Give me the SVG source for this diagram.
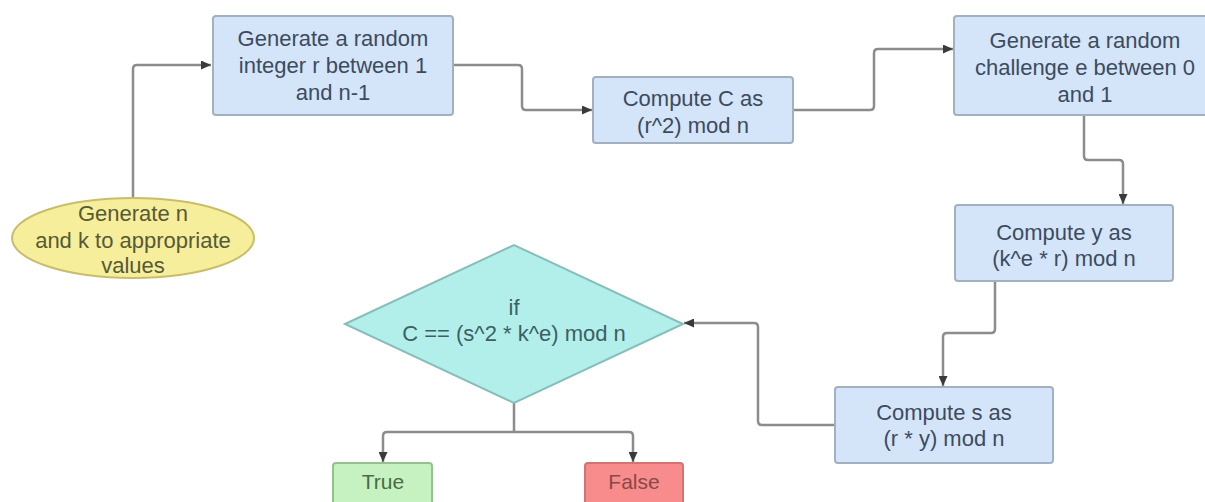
<svg xmlns="http://www.w3.org/2000/svg" width="1205" height="502" viewBox="0 0 1205 502">
  <style>
    .lbl { font-family: "Liberation Sans", Arial, sans-serif; font-size: 22px; text-anchor: middle; dominant-baseline: central; }
    .small { font-size: 21px; }
    .proc rect { fill: #d4e5fa; stroke: #a2b0c0; stroke-width: 2; }
    .proc text { fill: #3d4b5e; }
    .start ellipse { fill: #f7ee9b; stroke: #c8bd6a; stroke-width: 2; }
    .start text { fill: #565a36; }
    .dec polygon { fill: #b3efea; stroke: #88beb9; stroke-width: 2; }
    .dec text { fill: #3d5f64; }
    .yes rect { fill: #c6f2c1; stroke: #92c28e; stroke-width: 2; }
    .yes text { fill: #4b6b48; }
    .no rect { fill: #f88c8c; stroke: #d27474; stroke-width: 2; }
    .no text { fill: #8a4848; }
    .conn path { fill: none; stroke: #8c8c8c; stroke-width: 2.5; }
  </style>
  <defs>
    <marker id="arrow" markerUnits="userSpaceOnUse" markerWidth="11" markerHeight="9" refX="10" refY="4.5" orient="auto">
      <path d="M0 0 L10 4.5 L0 9 z" fill="#3a3a3a"/>
    </marker>
  </defs>

  <!-- connectors -->
  <g id="connectors" class="conn">
    <path d="M133 198 V69 Q133 65 137 65 H211" marker-end="url(#arrow)"/>
    <path d="M453 65 H518 Q522 65 522 69 V106 Q522 110 526 110 H592" marker-end="url(#arrow)"/>
    <path d="M793 110 H870 Q874 110 874 106 V53 Q874 49 878 49 H953" marker-end="url(#arrow)"/>
    <path d="M1084 115 V156 Q1084 160 1088 160 H1119 Q1123 160 1123 164 V204" marker-end="url(#arrow)"/>
    <path d="M995 281 V329 Q995 333 991 333 H947 Q943 333 943 337 V386" marker-end="url(#arrow)"/>
    <path d="M835 425 H762 Q758 425 758 421 V327 Q758 323 754 323 H684" marker-end="url(#arrow)"/>
    <path d="M514 403 V432"/>
    <path d="M514 432 H387 Q383 432 383 436 V462" marker-end="url(#arrow)"/>
    <path d="M514 432 H629 Q633 432 633 436 V462" marker-end="url(#arrow)"/>
  </g>

  <!-- start -->
  <g id="n-setup" class="start">
    <ellipse cx="133" cy="238" rx="121" ry="40"/>
    <text class="lbl" x="133" y="213">Generate n</text>
    <text class="lbl" x="133" y="240">and k to appropriate</text>
    <text class="lbl" x="133" y="265">values</text>
  </g>

  <g id="n-rand-r" class="proc">
    <rect x="213" y="16" width="240" height="99" rx="3"/>
    <text class="lbl" x="333" y="38">Generate a random</text>
    <text class="lbl" x="333" y="65">integer r between 1</text>
    <text class="lbl" x="333" y="92">and n-1</text>
  </g>

  <g id="n-compute-c" class="proc">
    <rect x="593" y="77" width="200" height="66" rx="3"/>
    <text class="lbl" x="693" y="98">Compute C as</text>
    <text class="lbl" x="693" y="125">(r^2) mod n</text>
  </g>

  <g id="n-challenge" class="proc">
    <rect x="954" y="16" width="262" height="99" rx="3"/>
    <text class="lbl" x="1085" y="40">Generate a random</text>
    <text class="lbl" x="1085" y="67">challenge e between 0</text>
    <text class="lbl" x="1085" y="94">and 1</text>
  </g>

  <g id="n-compute-y" class="proc">
    <rect x="955" y="205" width="218" height="76" rx="3"/>
    <text class="lbl" x="1064" y="232">Compute y as</text>
    <text class="lbl" x="1064" y="258">(k^e * r) mod n</text>
  </g>

  <g id="n-compute-s" class="proc">
    <rect x="835" y="387" width="218" height="76" rx="3"/>
    <text class="lbl" x="944" y="412">Compute s as</text>
    <text class="lbl" x="944" y="438">(r * y) mod n</text>
  </g>

  <g id="n-check" class="dec">
    <polygon points="345,324 514,245 683,324 514,403"/>
    <text class="lbl" x="514" y="307">if</text>
    <text class="lbl" x="514" y="333">C == (s^2 * k^e) mod n</text>
  </g>

  <g id="n-true" class="yes">
    <rect x="333" y="463" width="99" height="45" rx="3"/>
    <text class="lbl small" x="383" y="481">True</text>
  </g>

  <g id="n-false" class="no">
    <rect x="585" y="463" width="98" height="45" rx="3"/>
    <text class="lbl small" x="634" y="481">False</text>
  </g>
</svg>
